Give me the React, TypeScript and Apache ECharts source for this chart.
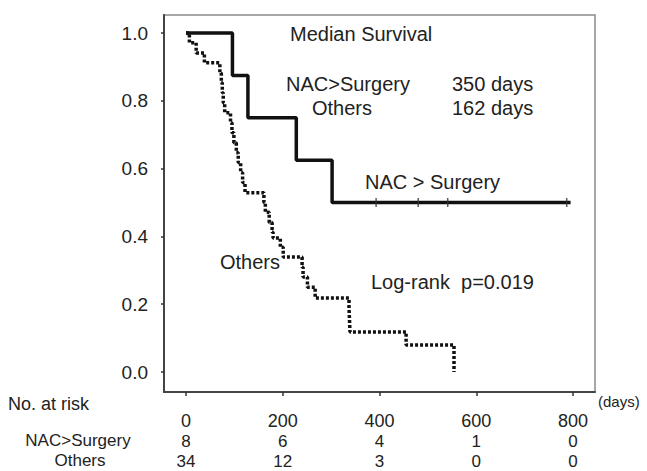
import React, { useEffect, useRef } from "react";
import * as echarts from "echarts";

const FONT = "'Liberation Sans', Arial, Helvetica, sans-serif";

// x-axis ticks (days) and numbers at risk
const xTicks = [0, 200, 400, 600, 800];
const nacAtRisk = [8, 6, 4, 1, 0];
const othersAtRisk = [34, 12, 3, 0, 0];

// Kaplan–Meier curves: [day, survival after the event]
const nacCurve: [number, number][] = [
  [0, 1], [96, 0.875], [128, 0.75], [228, 0.625], [302, 0.5], [795, 0.5],
];
const nacCensored = [393, 480, 541, 787];

const othersCurve: [number, number][] = [
  [0, 1], [7, 0.971], [21, 0.941], [38, 0.912],
  [70, 0.882], [73, 0.853], [75, 0.824], [77, 0.794], [80, 0.765],
  [92, 0.735], [95, 0.706], [99, 0.676], [104, 0.647], [108, 0.618],
  [113, 0.588], [117, 0.559], [122, 0.529],
  [161, 0.5], [164, 0.471], [172, 0.441], [178, 0.412], [180, 0.395],
  [195, 0.368], [201, 0.339],
  [240, 0.309], [242, 0.28], [251, 0.25], [267, 0.218],
  [337, 0.188], [338, 0.153], [339, 0.118],
  [455, 0.08], [554, 0],
];

export default function App() {
  const ref = useRef<HTMLDivElement>(null);

  useEffect(() => {
    if (!ref.current) return;
    const chart = echarts.init(ref.current, undefined, { renderer: "svg" });

    const txt = (
      text: string, x: number, y: number, size = 20,
      align: string = "left"
    ) => ({
      type: "text",
      x, y,
      silent: true,
      style: {
        text, x: 0, y: 0,
        font: `${size}px ${FONT}`,
        fill: "#222",
        textAlign: align,
        textVerticalAlign: "middle",
      },
    });

    const hiddenLine = { show: true, onZero: false, lineStyle: { opacity: 0 } };

    const riskAxis = (offset: number, values: number[]) => ({
      gridIndex: 0,
      type: "value",
      min: 0,
      max: 800,
      interval: 200,
      position: "bottom",
      offset,
      axisLine: hiddenLine,
      axisTick: { show: false },
      splitLine: { show: false },
      axisLabel: {
        margin: 21,
        fontSize: 17,
        lineHeight: 16,
        fontFamily: FONT,
        color: "#222",
        formatter: (v: number) => String(values[xTicks.indexOf(v)] ?? ""),
      },
    });

    chart.setOption({
      animation: false,
      backgroundColor: "#ffffff",
      grid: [
        { left: 186, right: 74, top: 33, bottom: 99 },
        {
          left: 164, right: 52, top: 15, bottom: 79,
          show: true, borderColor: "#8a8a8a", borderWidth: 1.5,
          backgroundColor: "transparent",
        },
      ],
      xAxis: [
        {
          gridIndex: 0,
          type: "value",
          min: 0,
          max: 800,
          interval: 200,
          position: "bottom",
          offset: 20,
          axisLine: hiddenLine,
          axisTick: { show: true, length: 4, lineStyle: { color: "#333", width: 1.5 } },
          splitLine: { show: false },
          axisLabel: { margin: 21, fontSize: 18, lineHeight: 16, fontFamily: FONT, color: "#222" },
        },
        {
          gridIndex: 1,
          type: "value",
          min: 0,
          max: 1,
          axisLine: { show: true, onZero: false, lineStyle: { color: "#444", width: 2 } },
          axisTick: { show: false },
          axisLabel: { show: false },
          splitLine: { show: false },
        },
        riskAxis(40, nacAtRisk),
        riskAxis(60, othersAtRisk),
      ],
      yAxis: [
        {
          gridIndex: 0,
          type: "value",
          min: 0,
          max: 1,
          interval: 0.2,
          offset: 22,
          axisLine: hiddenLine,
          axisTick: { show: true, length: 3, lineStyle: { color: "#333", width: 1.5 } },
          splitLine: { show: false },
          axisLabel: {
            margin: 16,
            fontSize: 19,
            fontFamily: FONT,
            color: "#222",
            formatter: (v: number) => v.toFixed(1),
          },
        },
        {
          gridIndex: 1,
          type: "value",
          min: 0,
          max: 1,
          axisLine: { show: true, onZero: false, lineStyle: { color: "#444", width: 2 } },
          axisTick: { show: false },
          axisLabel: { show: false },
          splitLine: { show: false },
        },
      ],
      series: [
        {
          name: "NAC>Surgery",
          type: "line",
          xAxisIndex: 0,
          yAxisIndex: 0,
          step: "end",
          symbol: "none",
          clip: false,
          data: nacCurve,
          lineStyle: { color: "#111", width: 3.5 },
          z: 3,
        },
        {
          name: "NAC censored",
          type: "scatter",
          xAxisIndex: 0,
          yAxisIndex: 0,
          symbol: "rect",
          symbolSize: [1.5, 9],
          data: nacCensored.map((d) => [d, nacCurve[nacCurve.length - 1][1]]),
          itemStyle: { color: "#333" },
          z: 4,
        },
        {
          name: "Others",
          type: "line",
          xAxisIndex: 0,
          yAxisIndex: 0,
          step: "end",
          symbol: "none",
          clip: false,
          data: othersCurve,
          lineStyle: { color: "#111", width: 3.5, type: [3, 2], cap: "butt" },
          z: 2,
        },
      ],
      graphic: [
        txt("Median Survival", 290, 34),
        txt("NAC>Surgery", 286, 84),
        txt("350 days", 452, 84),
        txt("Others", 312, 108),
        txt("162 days", 452, 108),
        txt("NAC > Surgery", 365, 182),
        txt("Others", 220, 262),
        txt("Log-rank  p=0.019", 371, 282),
        txt("No. at risk", 8, 404, 18),
        txt("(days)", 598, 401, 15),
        txt("NAC>Surgery", 78, 440, 17, "center"),
        txt("Others", 80, 460, 17, "center"),
      ],
    });

    return () => chart.dispose();
  }, []);

  return (
    <div
      ref={ref}
      style={{ position: "fixed", left: 0, top: 0, width: 647, height: 471 }}
    />
  );
}
